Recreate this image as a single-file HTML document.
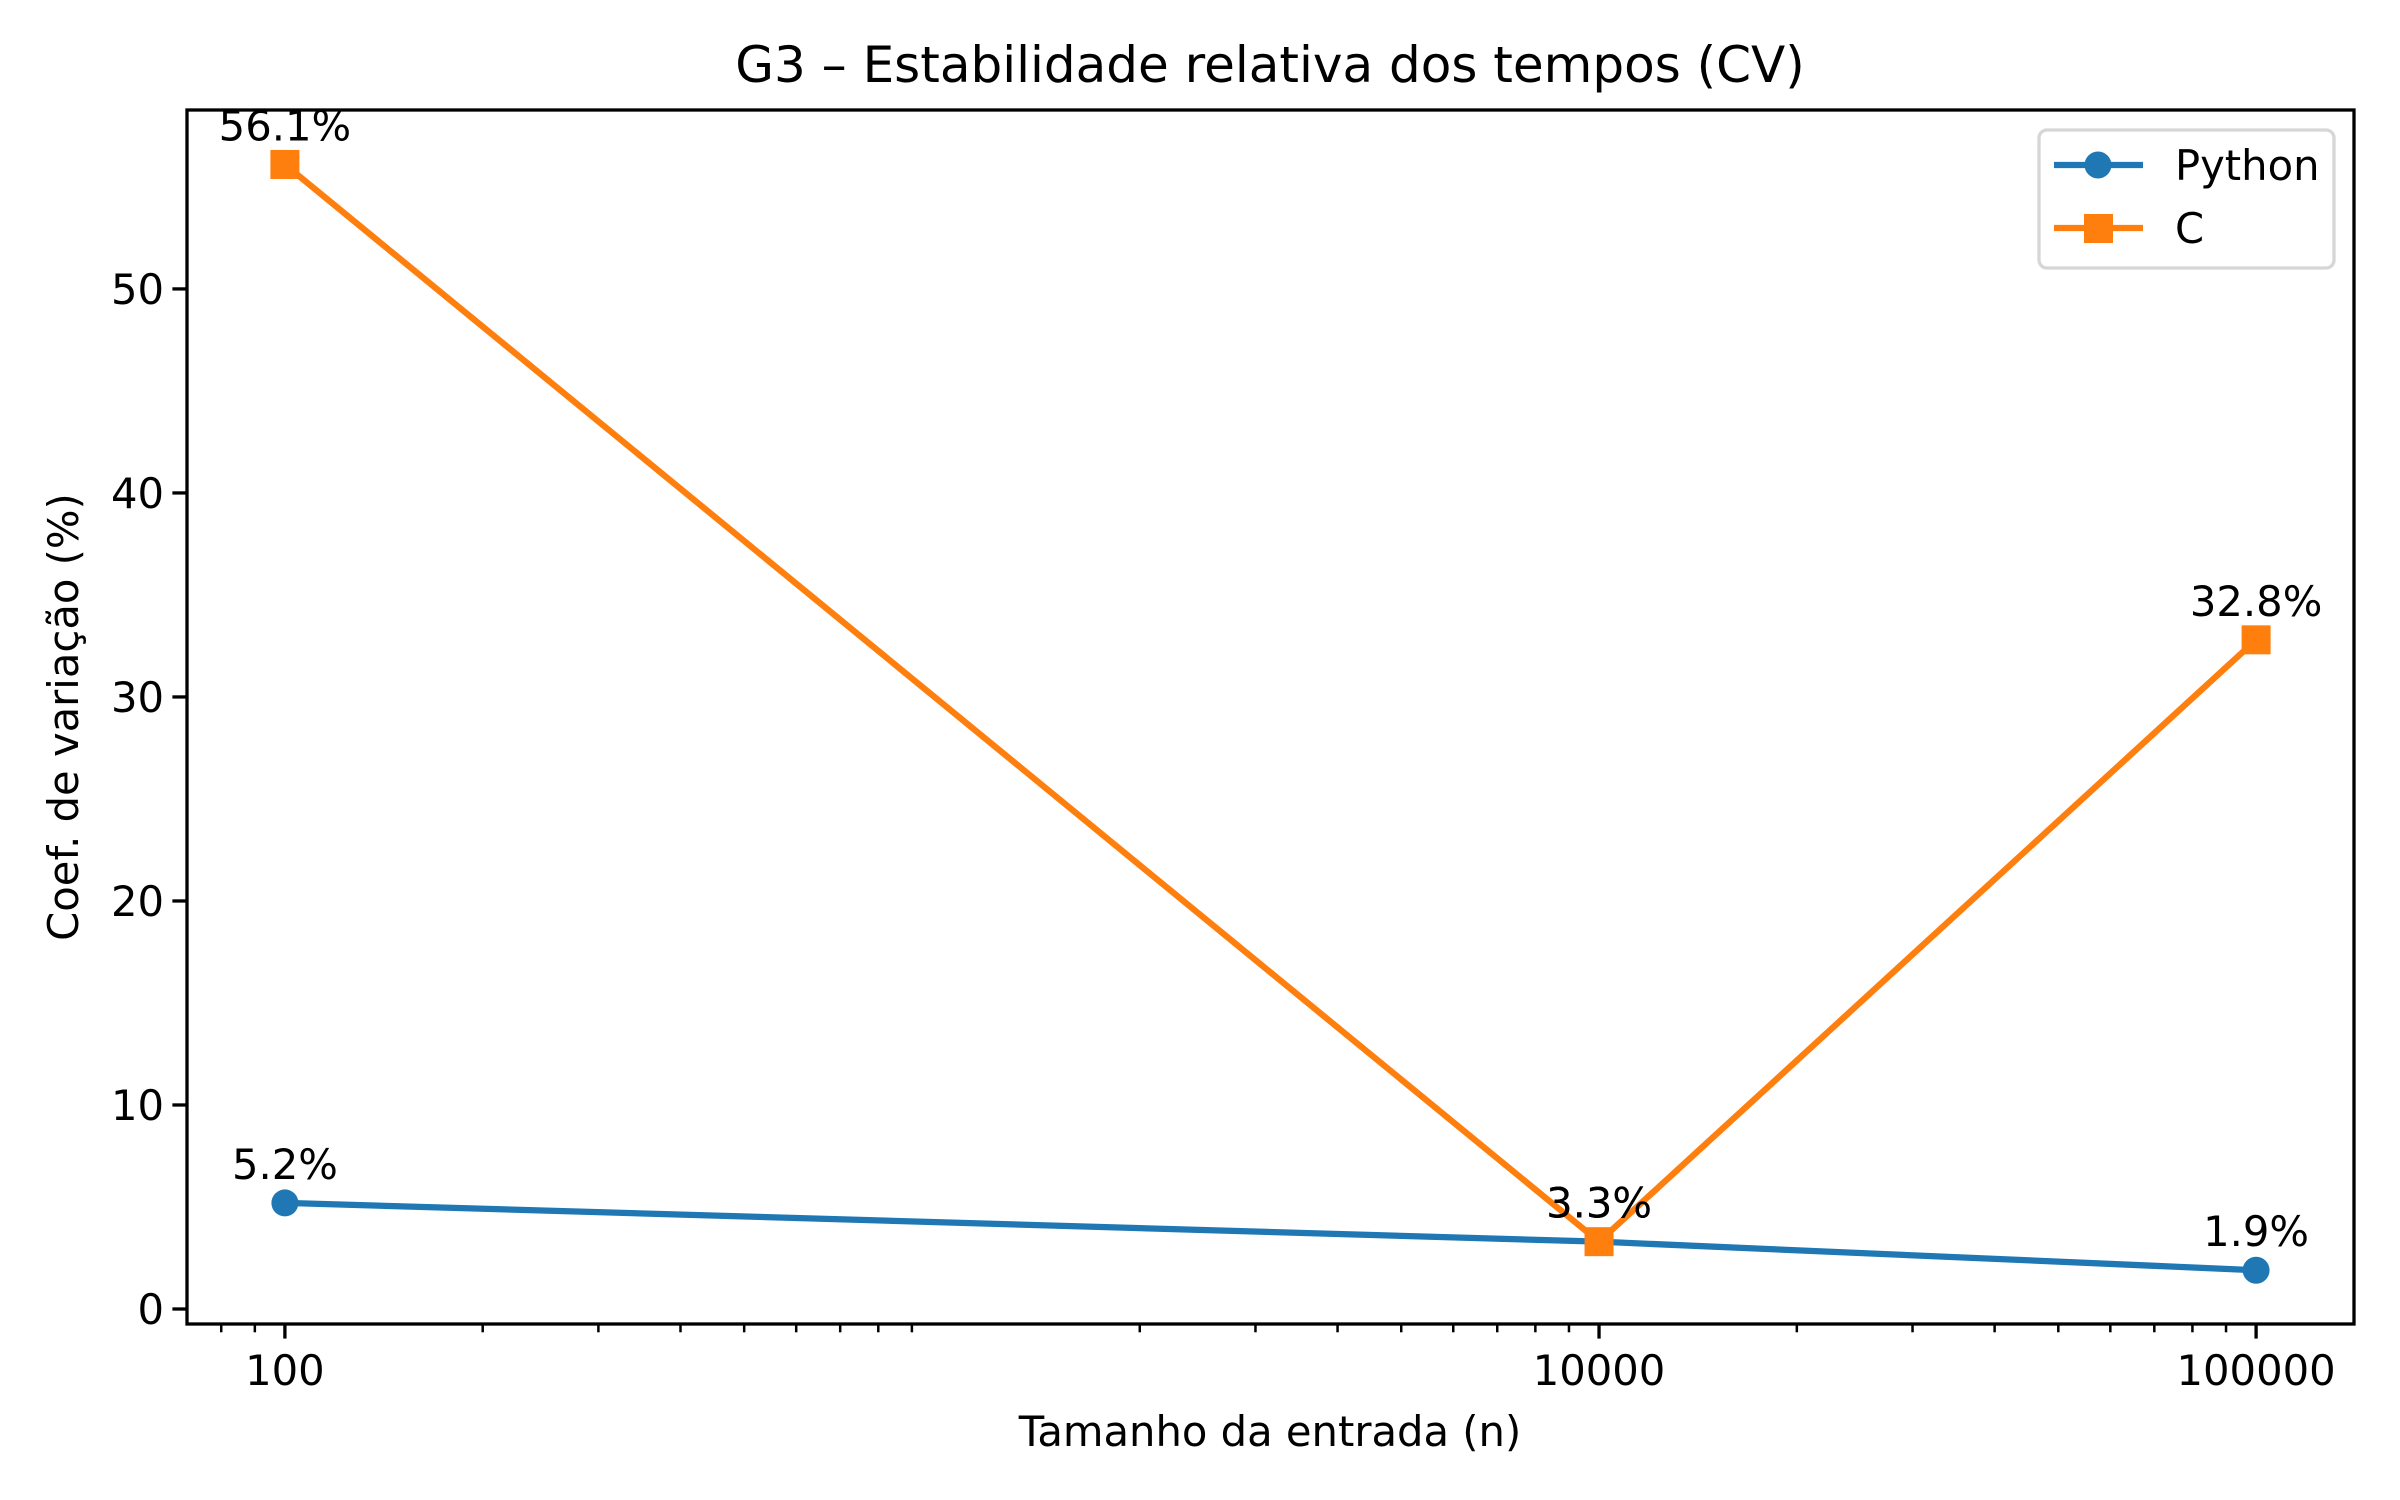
<!DOCTYPE html>
<html><head><meta charset="utf-8"><style>
html,body{margin:0;padding:0;background:#fff;}
svg{display:block;font-family:"DejaVu Sans","Liberation Sans",sans-serif;}
</style></head><body>
<svg id="chart" width="2400" height="1500" viewBox="0 0 2400 1500" xmlns="http://www.w3.org/2000/svg">
<rect x="0" y="0" width="2400" height="1500" fill="#fff"/>
<text x="1270" y="82" font-size="50" text-anchor="middle">G3 – Estabilidade relativa dos tempos (CV)</text>
<text x="1270" y="1446" font-size="41.7" text-anchor="middle">Tamanho da entrada (n)</text>
<text x="0" y="0" font-size="41.7" text-anchor="middle" transform="translate(78,717) rotate(-90)">Coef. de variação (%)</text>
<g id="ticks"></g>
<g id="series"></g>
<rect x="187" y="110" width="2167" height="1214" fill="none" stroke="#000" stroke-width="3.3"/>
<g>
<rect x="2039" y="130" width="295" height="138" rx="8" fill="#fff" fill-opacity="0.8" stroke="#d6d6d6" stroke-width="3.3"/>
<g>
<line x1="2054" y1="165" x2="2143" y2="165" stroke="#1f77b4" stroke-width="6.25"/>
<circle cx="2098" cy="165" r="13.5" fill="#1f77b4"/>
<text x="2175" y="180" font-size="41.7">Python</text>
</g>
<g>
<line x1="2054" y1="228" x2="2143" y2="228" stroke="#ff7f0e" stroke-width="6.25"/>
<rect x="2084" y="214" width="29" height="29" fill="#ff7f0e"/>
<text x="2175" y="243" font-size="41.7">C</text>
</g>
</g>
</svg>
<script>
const categories = [100, 10000, 100000];
const pythonValues = [5.2, 3.3, 1.9];
const cValues = [56.1, 3.3, 32.8];
const yTickLabels = [0, 10, 20, 30, 40, 50];
const xTickLabels = [100, 10000, 100000];

const NS = "http://www.w3.org/2000/svg";
const L = 187, R = 2354, T = 110, B = 1324;
const xMin = 1.851, xMax = 5.149, yMin = -0.735, yMax = 58.77;
function xs(v){ return L + (Math.log10(v) - xMin) / (xMax - xMin) * (R - L); }
function ys(v){ return B - (v - yMin) / (yMax - yMin) * (B - T); }
function mk(tag, attrs, parent){ const e = document.createElementNS(NS, tag); for (const k in attrs) e.setAttribute(k, attrs[k]); parent.appendChild(e); return e; }

const tg = document.getElementById('ticks');
yTickLabels.forEach(v => {
  const y = ys(v);
  const t = mk('line', {x1: L - 14.6, x2: L, y1: y, y2: y, stroke: '#000', 'stroke-width': 3.3}, tg);
  
  
  const lb = mk('text', {x: L - 23, y: y + 15, 'font-size': 41.7, 'text-anchor': 'end'}, tg);
  lb.textContent = v;
  
  
});
xTickLabels.forEach(v => {
  const x = xs(v);
  const t = mk('line', {x1: x, x2: x, y1: B, y2: B + 14.6, stroke: '#000', 'stroke-width': 3.3}, tg);
  
  
  const lb = mk('text', {x: x, y: B + 61, 'font-size': 41.7, 'text-anchor': 'middle'}, tg);
  lb.textContent = v;
  
  
});
for (let d = 1; d <= 5; d++) {
  for (let m = 2; m <= 9; m++) {
    const v = m * Math.pow(10, d);
    const lv = Math.log10(v);
    if (lv < xMin || lv > xMax) continue;
    const x = xs(v);
    const t = mk('line', {x1: x, x2: x, y1: B, y2: B + 8.3, stroke: '#000', 'stroke-width': 2.5}, tg);
    
    
  }
}

const sg = document.getElementById('series');
function drawSeries(vals, color, name, square){
  const pts = categories.map((c, i) => xs(c) + ',' + ys(vals[i])).join(' ');
  const pl = mk('polyline', {points: pts, fill: 'none', stroke: color, 'stroke-width': 6.25, 'stroke-linejoin': 'round'}, sg);
  
  
  categories.forEach((c, i) => {
    const x = xs(c), y = ys(vals[i]);
    let m;
    if (square) m = mk('rect', {x: x - 14.5, y: y - 14.5, width: 29, height: 29, fill: color}, sg);
    else m = mk('circle', {cx: x, cy: y, r: 13.5, fill: color}, sg);
    
    
  });
}
function drawLabels(vals, name){
  categories.forEach((c, i) => {
    const t = mk('text', {x: xs(c), y: ys(vals[i]) - 24, 'font-size': 41.7, 'text-anchor': 'middle'}, sg);
    t.textContent = vals[i].toFixed(1) + '%';
    
    
  });
}
drawSeries(pythonValues, '#1f77b4', 'python', false);
drawSeries(cValues, '#ff7f0e', 'c', true);
drawLabels(pythonValues, 'python');
drawLabels(cValues, 'c');
</script>
</body></html>
